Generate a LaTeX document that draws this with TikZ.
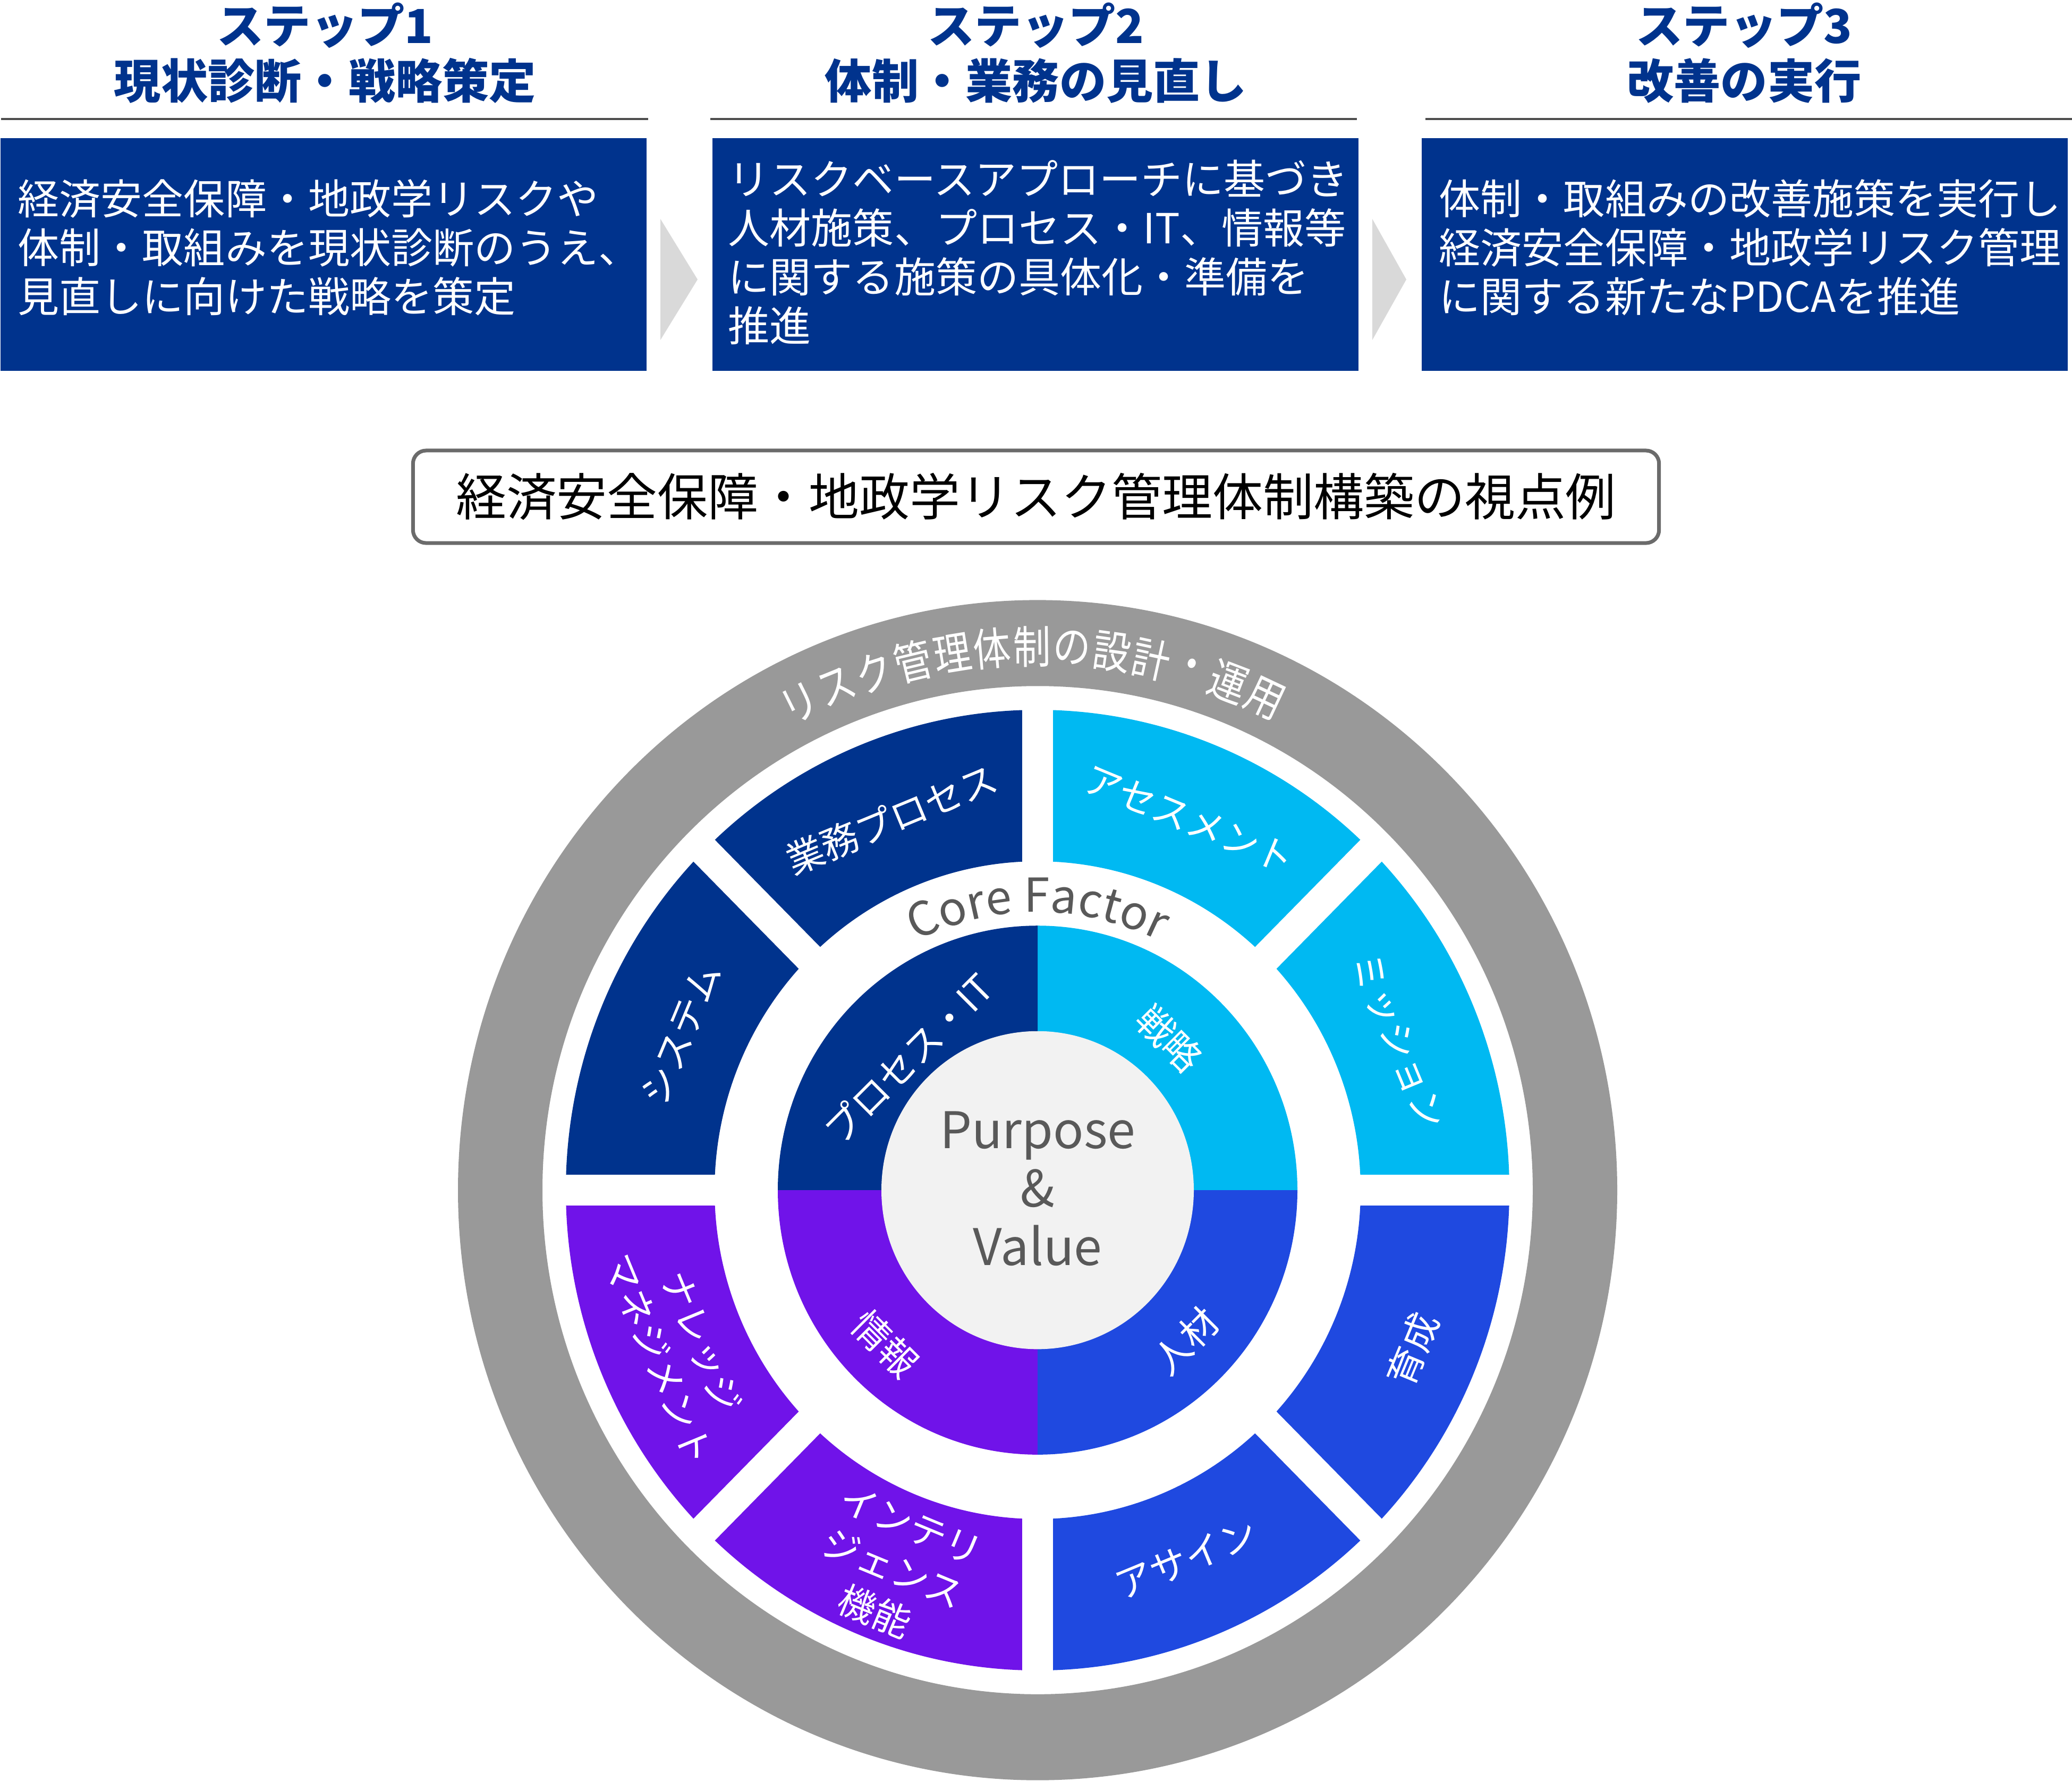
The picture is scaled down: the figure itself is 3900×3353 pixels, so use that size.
\documentclass[tikz,border=0pt]{standalone}
\usepackage{fontspec}
\setmainfont{Noto Sans CJK JP}
\usetikzlibrary{decorations.text}
\definecolor{navy}{HTML}{00338D}
\definecolor{cyanb}{HTML}{00B9F2}
\definecolor{royal}{HTML}{1F49E0}
\definecolor{purp}{HTML}{7013E9}
\definecolor{ringgray}{HTML}{999999}
\definecolor{centergray}{HTML}{F2F2F2}
\definecolor{chev}{HTML}{D9D9D9}
\definecolor{txtgray}{HTML}{595959}
\definecolor{linegray}{HTML}{4D4D4D}
\definecolor{bordergray}{HTML}{6B6B6B}
\newcommand\cffont{\fontsize{25pt}{30pt}\selectfont}
\begin{document}
\begin{tikzpicture}[x=0.01cm,y=0.01cm,
  steptitle/.style={font=\bfseries\fontsize{25.1pt}{29.6pt}\selectfont, text=navy, align=center, inner sep=0pt},
  stepbox/.style={fill=navy, inner sep=0pt, anchor=north west, minimum width=12.16cm, minimum height=4.38cm},
  boxtext/.style={font=\fontsize{22.2pt}{26.2pt}\selectfont, text=white, align=left, anchor=west, inner sep=0pt},
  rule/.style={linegray, line width=1pt},
  chevron/.style={fill=chev},
  seglabel/.style={font=\fontsize{20pt}{25pt}\selectfont, text=white, align=center, inner sep=0pt},
  ringtext/.style={font=\fontsize{24pt}{28pt}\selectfont, text=white, inner sep=0pt},
  gap/.style={white, line width=16.3pt}
]
\useasboundingbox (0,0) rectangle (3900,-3353);

% ---- step headers ----
\node[steptitle] (title1) at (612,-100) {ステップ1\\現状診断・戦略策定};
\node[steptitle] (title2) at (1950,-100) {ステップ2\\体制・業務の見直し};
\node[steptitle] (title3) at (3283,-100) {ステップ3\\改善の実行};
\draw[rule] (2,-224) -- (1220,-224);
\draw[rule] (1337,-224) -- (2554,-224);
\draw[rule] (2683,-224) -- (3900,-224);

% ---- step boxes ----
\node[stepbox] (box1) at (0,-259) {};
\node[stepbox] (box2) at (1340,-259) {};
\node[stepbox] (box3) at (2675,-259) {};
\node[boxtext] (txt1) at (33,-466) {経済安全保障・地政学リスクや\\体制・取組みを現状診断のうえ、\\見直しに向けた戦略を策定};
\node[boxtext] (txt2) at (1370,-475) {リスクベースアプローチに基づき\\人材施策、プロセス・IT、情報等\\に関する施策の具体化・準備を\\推進};
\node[boxtext] (txt3) at (2708,-466) {体制・取組みの改善施策を実行し\\経済安全保障・地政学リスク管理\\に関する新たなPDCAを推進};
\fill[chevron] (1243,-412) -- (1313,-526) -- (1243,-640) -- cycle;
\fill[chevron] (2583,-412) -- (2647,-526) -- (2583,-640) -- cycle;

% ---- main title ----
\node[draw=bordergray, line width=2pt, rounded corners=7pt, fill=white,
      minimum width=23.44cm, minimum height=1.74cm, inner sep=0pt,
      font=\fontsize{27pt}{32pt}\selectfont] (maintitle) at (1950,-935)
      {経済安全保障・地政学リスク管理体制構築の視点例};

% ---- circle diagram ----
\begin{scope}[shift={(1953,-2240)}, yscale=1.018]
  \fill[ringgray, even odd rule] (0,0) circle[radius=1091] (0,0) circle[radius=932];
  \foreach \a/\c in {90/navy,135/navy,180/purp,225/purp,270/royal,315/royal,0/cyanb,45/cyanb}{
    \fill[\c] (\a:608) arc[start angle=\a, delta angle=45, radius=608]
      -- ({\a+45}:888) arc[start angle=\a+45, delta angle=-45, radius=888] -- cycle;
  }
  \foreach \a in {0,45,90,135}{
    \draw[gap] (\a:912) -- ({\a+180}:912);
  }
  \fill[cyanb] (0,0) -- (0:489) arc[start angle=0, end angle=90, radius=489] -- cycle;
  \fill[navy] (0,0) -- (90:489) arc[start angle=90, end angle=180, radius=489] -- cycle;
  \fill[purp] (0,0) -- (180:489) arc[start angle=180, end angle=270, radius=489] -- cycle;
  \fill[royal] (0,0) -- (270:489) arc[start angle=270, end angle=360, radius=489] -- cycle;
  \fill[centergray] (0,0) circle[radius=294];

  \foreach \ch [count=\i from 0] in {リ,ス,ク,管,理,体,制,の,設,計,・,運,用}{
    \pgfmathsetmacro\ang{116.4-4.3*\i}
    \node[ringtext, rotate=\ang-90] (rc\i) at (\ang:1005) {\scalebox{0.84}[1]{\ch}};
  }

  \path[decorate, decoration={text along path, text align=center, text color=txtgray,
      text={|\cffont|Core Factor}}] (125:514) arc[start angle=125, end angle=55, radius=514];

  \node[font=\fontsize{27pt}{31.3pt}\selectfont, text=txtgray, align=center, inner sep=0pt] (pv) at (0,3) {Purpose\\\&\\Value};

  \node[seglabel, rotate=22.5] (l1) at (111.8:739) {業務プロセス};
  \node[seglabel, rotate=-22.5] (l2) at (67.4:743) {アセスメント};
  \node[seglabel, rotate=-67.5] (l3) at (22.1:732) {ミッション};
  \node[seglabel, rotate=67.5] (l4) at (156.8:731) {システム};
  \node[seglabel, rotate=67.5] (l5) at (-22.6:765) {育成};
  \node[seglabel, rotate=22.5] (l6) at (-67.7:737) {アサイン};
  \node[seglabel, rotate=-22.5] (l7) at (248.7:752) {インテリ\\ジェンス\\機能};
  \node[seglabel, rotate=-67.5] (l8) at (203.8:735) {ナレッジ\\マネジメント};

  \node[seglabel, rotate=45] (i1) at (135:345) {プロセス・IT};
  \node[seglabel, rotate=-45] (i2) at (48.5:374) {戦略};
  \node[seglabel, rotate=45] (i3) at (-45:394) {人材};
  \node[seglabel, rotate=-45] (i4) at (224.7:404) {情報};
\end{scope}
\end{tikzpicture}
\end{document}
